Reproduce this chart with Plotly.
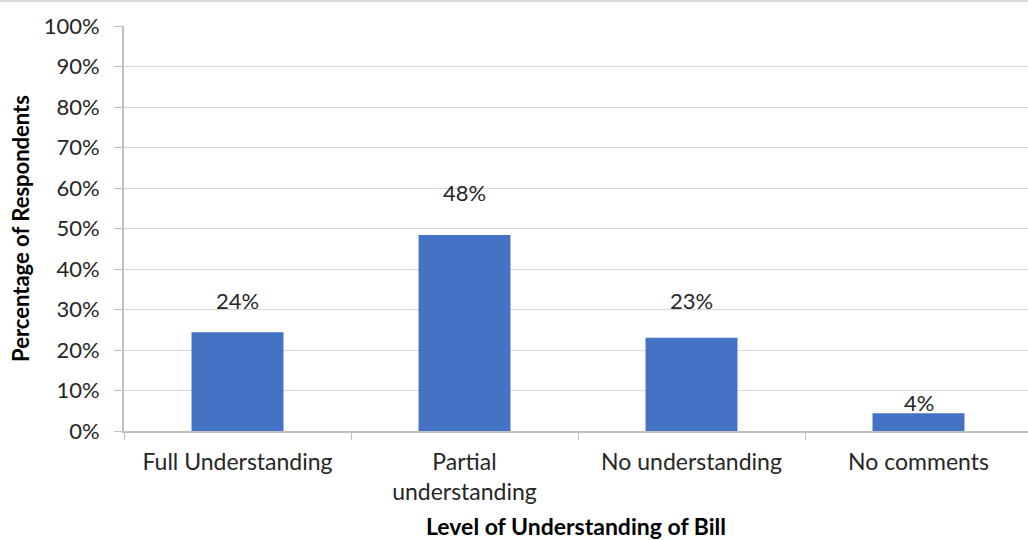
import plotly.graph_objects as go

categories = ["Full Understanding", "Partial<br>understanding", "No understanding", "No comments"]
values = [24.4, 48.4, 23.0, 4.4]
labels = ["24%", "48%", "23%", "4%"]
label_shift = [32, 42, 37, 11]

font_family = "Lato, 'Open Sans', sans-serif"
text_color = "#262626"

fig = go.Figure()
fig.add_trace(go.Bar(
    x=categories, y=values, width=0.405,
    marker=dict(color="#4472C4", line=dict(width=0)),
    hoverinfo="skip",
))

for c, v, t, s in zip(categories, values, labels, label_shift):
    fig.add_annotation(x=c, y=v, text=t, showarrow=False, yanchor="middle",
                       yshift=s, font=dict(size=22, color=text_color, family=font_family))

fig.add_shape(type="line", xref="paper", yref="paper", x0=-0.2, x1=1.1,
              y0=(431 - 1) / 405, y1=(431 - 1) / 405,
              line=dict(color="#d9d9d9", width=2))

fig.update_layout(
    width=1028, height=540,
    margin=dict(l=124, r=0, t=26, b=109),
    plot_bgcolor="white", paper_bgcolor="white",
    showlegend=False,
    font=dict(family=font_family, color=text_color, size=22),
    xaxis=dict(
        range=[-0.5, -0.5 + 904 / 227],
        tickson="boundaries", ticks="outside", ticklen=7, tickcolor="#bfbfbf",
        showline=True, linecolor="#bfbfbf", linewidth=2,
        showgrid=False,
        tickfont=dict(size=23, color=text_color),
        ticklabelstandoff=9,
        title=dict(text="<b>Level of Understanding of Bill</b>", font=dict(size=23, color="#000"), standoff=16),
    ),
    yaxis=dict(
        range=[0, 100], dtick=10, ticksuffix="%",
        ticks="outside", ticklen=8, tickcolor="#bfbfbf",
        showline=True, linecolor="#bfbfbf", linewidth=2,
        showgrid=True, gridcolor="#d9d9d9", gridwidth=1,
        zeroline=False,
        tickfont=dict(size=22, color=text_color),
        ticklabelstandoff=10,
        title=dict(text="<b>Percentage of Respondents</b>", font=dict(size=22, color="#000"), standoff=8),
    ),
)

fig.write_html("out.html")
